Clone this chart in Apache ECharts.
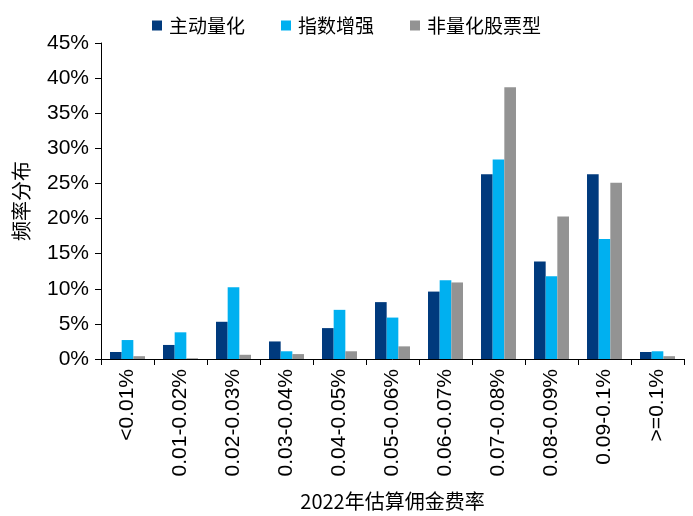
<!DOCTYPE html>
<html>
<head>
<meta charset="utf-8">
<script src="https://cdn.jsdelivr.net/npm/echarts@6/dist/echarts.min.js"></script>
<style>
html,body{margin:0;padding:0;background:#fff;}
#main{width:693px;height:516px;}
</style>
</head>
<body>
<div id="main"></div>
<script>
var categories = ['<0.01%','0.01-0.02%','0.02-0.03%','0.03-0.04%','0.04-0.05%','0.05-0.06%','0.06-0.07%','0.07-0.08%','0.08-0.09%','0.09-0.1%','>=0.1%'];
var seriesNames = ['主动量化','指数增强','非量化股票型'];
var activeQuant = [1.0, 2.0, 5.3, 2.5, 4.4, 8.1, 9.6, 26.3, 13.9, 26.3, 1.0];
var indexEnhanced = [2.7, 3.8, 10.2, 1.1, 7.0, 5.9, 11.2, 28.4, 11.8, 17.1, 1.1];
var nonQuant = [0.4, 0.1, 0.6, 0.7, 1.1, 1.8, 10.9, 38.7, 20.3, 25.1, 0.4];
var yTicks = [0, 5, 10, 15, 20, 25, 30, 35, 40, 45];

var colors = ['#003A7D', '#00B0F0', '#939393'];
var chart = echarts.init(document.getElementById('main'));
var latin = 'Liberation Sans, Arial, Helvetica, sans-serif';
var cjk = 'Noto Sans CJK SC, sans-serif';
chart.setOption({
  animation: false,
  color: colors,
  legend: {
    top: 11,
    left: 'center',
    itemWidth: 10,
    itemHeight: 10,
    itemGap: 36,
    icon: 'rect',
    textStyle: {fontFamily: cjk, fontSize: 19, color: '#000', padding: [0,0,0,2]},
    data: seriesNames
  },
  grid: {left: 101, right: 9, top: 43, bottom: 156, containLabel: false},
  xAxis: {
    type: 'category',
    data: categories,
    name: '2022年估算佣金费率',
    nameLocation: 'middle',
    nameGap: 132,
    nameTextStyle: {fontFamily: cjk, fontSize: 20, color: '#000'},
    axisLine: {lineStyle: {color: '#000', width: 1}},
    axisTick: {show: true, length: 6, lineStyle: {color: '#000'}, alignWithLabel: false},
    axisLabel: {rotate: 90, margin: 10, fontFamily: latin, fontSize: 21, color: '#000', interval: 0}
  },
  yAxis: {
    type: 'value',
    min: yTicks[0],
    max: yTicks[yTicks.length - 1],
    interval: 5,
    name: '频率分布',
    nameLocation: 'middle',
    nameRotate: 90,
    nameGap: 70,
    nameTextStyle: {fontFamily: cjk, fontSize: 20, color: '#000'},
    axisLine: {show: true, lineStyle: {color: '#000', width: 1}},
    axisTick: {show: true, length: 6, lineStyle: {color: '#000'}},
    splitLine: {show: false},
    axisLabel: {margin: 12, fontFamily: latin, fontSize: 21, color: '#000', formatter: function(v){return v + '%';}}
  },
  series: [
    {name: seriesNames[0], type: 'bar', data: activeQuant, barGap: '0%', barCategoryGap: '34%'},
    {name: seriesNames[1], type: 'bar', data: indexEnhanced, barGap: '0%', barCategoryGap: '34%'},
    {name: seriesNames[2], type: 'bar', data: nonQuant, barGap: '0%', barCategoryGap: '34%'}
  ]
});
</script>
</body>
</html>
